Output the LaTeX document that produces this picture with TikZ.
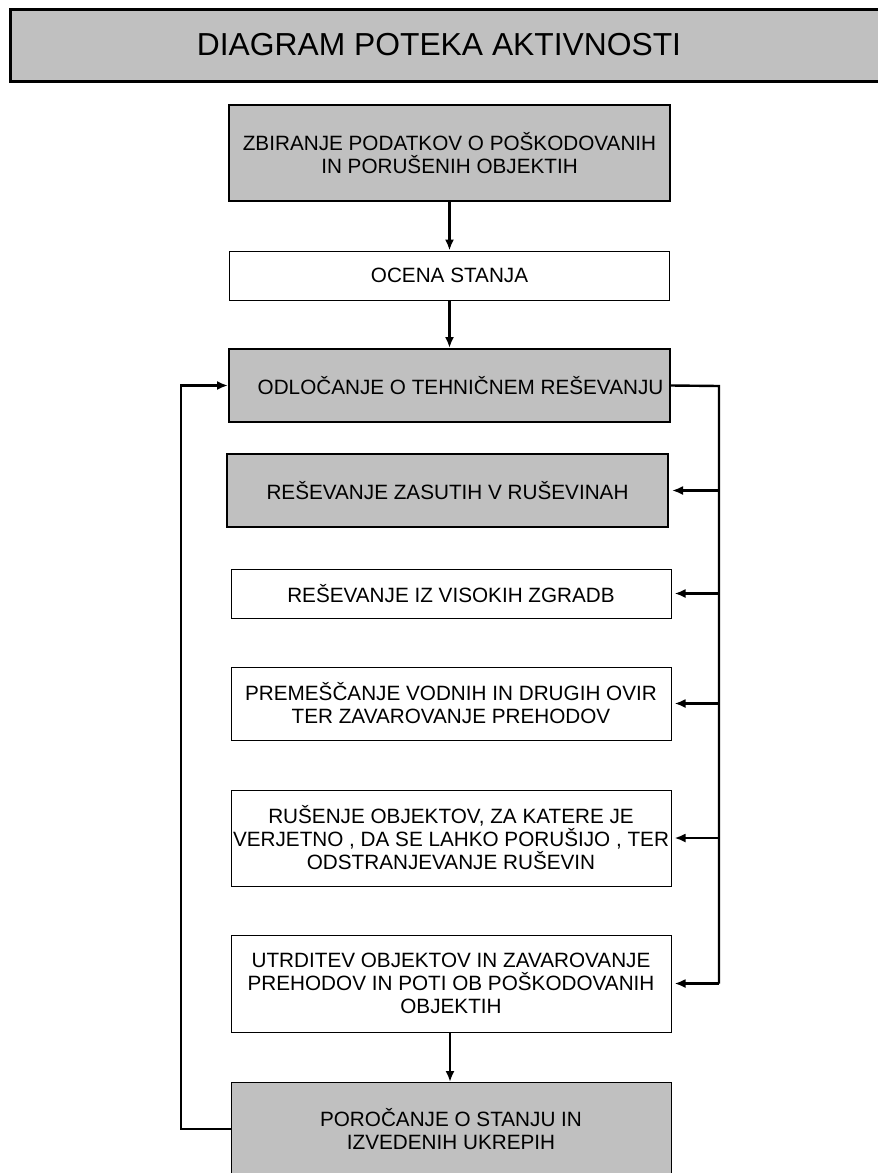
\documentclass[tikz,border=0pt]{standalone}
\usepackage{fontspec}
\setmainfont{Liberation Sans}
\usetikzlibrary{arrows.meta}
\begin{document}
\begin{tikzpicture}[x=1pt, y=-1pt,
  greybox/.style={draw, line width=2pt, fill=boxgrey, minimum width=441pt, inner sep=0pt, align=center, font=\fontsize{20.7}{23}\selectfont},
  whitebox/.style={draw, line width=1pt, fill=white, minimum width=440pt, inner sep=0pt, align=center, font=\fontsize{20.7}{23}\selectfont},
  link/.style={line width=2.4pt},
  arr/.style={link, -{Latex[length=11pt, width=9pt]}}]
\definecolor{boxgrey}{HTML}{C0C0C0}
\useasboundingbox (0,0) rectangle (878,1173);
\node[draw, line width=2.8pt, fill=boxgrey, minimum width=900pt, minimum height=72pt, anchor=north west] (title) at (9,8) {};
\node[font=\fontsize{31.8}{36}\selectfont] (titletext) at (439,45) {DIAGRAM POTEKA AKTIVNOSTI};
\node[greybox, minimum height=96pt] (zbir) at (449.5,153) {ZBIRANJE PODATKOV O POŠKODOVANIH\\IN PORUŠENIH OBJEKTIH};
\node[whitebox, minimum height=49pt] (ocena) at (449.5,275.5) {OCENA STANJA};
\node[greybox, minimum height=73pt] (odloc) at (449.5,385.5) {\hspace{22pt}ODLOČANJE O TEHNIČNEM REŠEVANJU};
\node[greybox, minimum height=73pt] (zasut) at (447.5,490.5) {REŠEVANJE ZASUTIH V RUŠEVINAH};
\node[whitebox, minimum height=49pt] (visok) at (451,593.5) {REŠEVANJE IZ VISOKIH ZGRADB};
\node[whitebox, minimum height=73pt] (premes) at (451,703.5) {PREMEŠČANJE VODNIH IN DRUGIH OVIR\\TER ZAVAROVANJE PREHODOV};
\node[whitebox, minimum height=96pt] (rusen) at (451,838) {RUŠENJE OBJEKTOV, ZA KATERE JE\\VERJETNO , DA SE LAHKO PORUŠIJO , TER\\ODSTRANJEVANJE RUŠEVIN};
\node[whitebox, minimum height=97pt] (utrd) at (451,983.5) {UTRDITEV OBJEKTOV IN ZAVAROVANJE\\PREHODOV IN POTI OB POŠKODOVANIH\\OBJEKTIH};
\node[greybox, line width=1pt, minimum width=440pt, minimum height=93pt, anchor=north] (poroc) at (451,1082) {POROČANJE O STANJU IN\\IZVEDENIH UKREPIH};
\coordinate (busR) at (719,386);
\coordinate (busL) at (181,386);
\draw[arr] (zbir) -- (ocena);
\draw[arr] (ocena) -- (odloc);
\draw[arr] ([xshift=-1pt]utrd.south) -- ([xshift=-1pt]poroc.north);
\draw[link] (odloc.east) -- (busR) -- (busR |- utrd.east);
\foreach \n in {zasut,visok,premes,rusen,utrd}
  \draw[arr] (busR |- \n.east) -- ([xshift=3pt]\n.east);
\draw[arr] (poroc.west) -| (busL |- odloc.west) -- (odloc.west);
\end{tikzpicture}
\end{document}
